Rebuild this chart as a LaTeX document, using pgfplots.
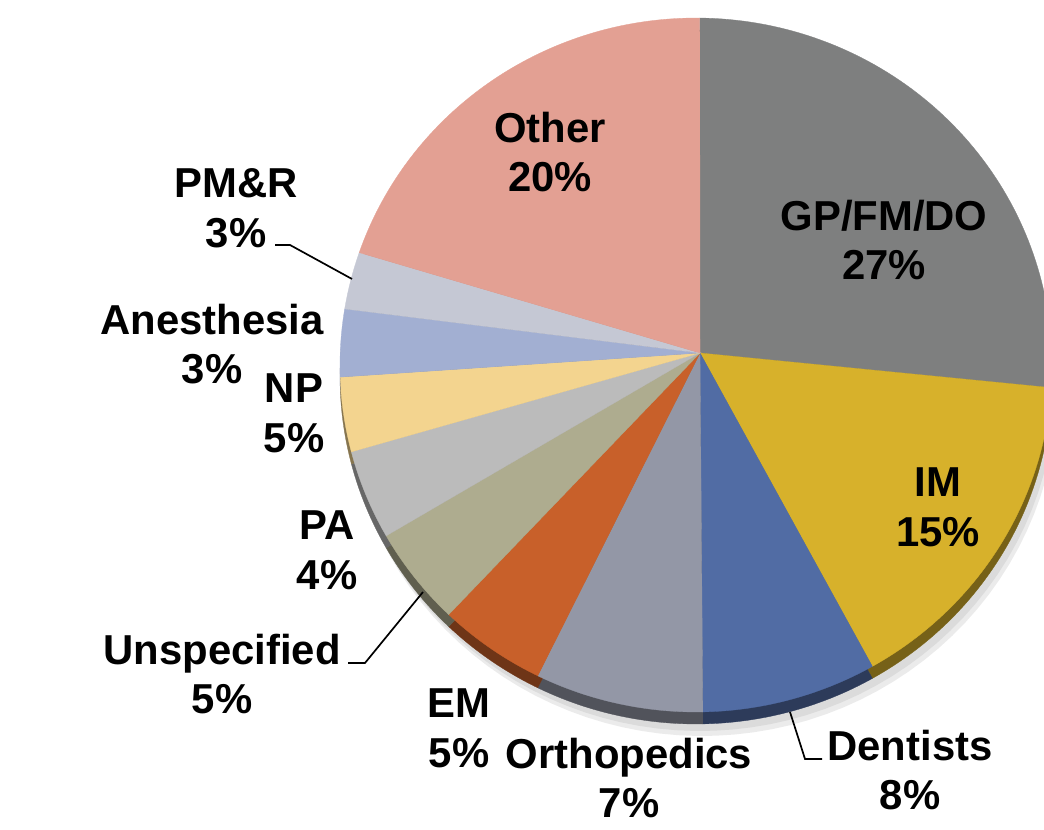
\documentclass[border=0pt]{standalone}
\usepackage{pgfplots}
\pgfplotsset{compat=1.18}
\usepackage{fontspec}
\setmainfont{Liberation Sans}
\definecolor{cGP}{HTML}{7E7F7F}
\definecolor{cIM}{HTML}{D7B12B}
\definecolor{cDent}{HTML}{516CA4}
\definecolor{cOrtho}{HTML}{9397A6}
\definecolor{cEM}{HTML}{C8602A}
\definecolor{cUns}{HTML}{AEAC8F}
\definecolor{cPA}{HTML}{BBBBBB}
\definecolor{cNP}{HTML}{F3D48F}
\definecolor{cAnes}{HTML}{A2AFD2}
\definecolor{cPMR}{HTML}{C5C8D4}
\definecolor{cOther}{HTML}{E3A093}
% top face of a slice: ellipse centre (696,465), radii 356 x 347, apex (700,477)
\newcommand{\topslice}[3]{%
  \addplot[draw=#1, line width=0.3pt, fill=#1, domain=#2:#3, samples=80]
    ({696+356*cos(x)},{465+347*sin(x)}) -- (700,477) -- cycle;}
% side (thickness) of a slice: same shape, 12 px lower, darker
\newcommand{\sideslice}[3]{%
  \addplot[draw=#1!55!black, line width=0.3pt, fill=#1!55!black, domain=#2:#3, samples=80]
    ({696+356*cos(x)},{453+347*sin(x)}) -- (700,465) -- cycle;}
\begin{document}
\begin{tikzpicture}
\begin{axis}[hide axis, scale only axis, width=1044bp, height=830bp,
  xmin=0, xmax=1044, ymin=0, ymax=830, clip=true]
\addplot[draw=none] coordinates {(0,0) (1044,830)};
% soft shadow
\addplot[draw=none, fill=black!8, domain=0:360, samples=120] ({702+356*cos(x)},{441+347*sin(x)});
\addplot[draw=none, fill=black!14, domain=0:360, samples=120] ({700+356*cos(x)},{446+347*sin(x)});
% sides
\sideslice{cGP}{-3.75}{89.4}
\sideslice{cIM}{-60.3}{-3.75}
\sideslice{cDent}{-88.9}{-60.3}
\sideslice{cOrtho}{-116.4}{-88.9}
\sideslice{cEM}{-134.0}{-116.4}
\sideslice{cUns}{-150.5}{-134.0}
\sideslice{cPA}{-165.5}{-150.5}
\sideslice{cNP}{-178.0}{-165.5}
\sideslice{cAnes}{-189.3}{-178.0}
\sideslice{cPMR}{-198.9}{-189.3}
\sideslice{cOther}{-270.6}{-198.9}
% top faces
\topslice{cGP}{-3.75}{89.4}
\topslice{cIM}{-60.3}{-3.75}
\topslice{cDent}{-88.9}{-60.3}
\topslice{cOrtho}{-116.4}{-88.9}
\topslice{cEM}{-134.0}{-116.4}
\topslice{cUns}{-150.5}{-134.0}
\topslice{cPA}{-165.5}{-150.5}
\topslice{cNP}{-178.0}{-165.5}
\topslice{cAnes}{-189.3}{-178.0}
\topslice{cPMR}{-198.9}{-189.3}
\topslice{cOther}{-270.6}{-198.9}
% leader lines
\addplot[black, line width=1.7pt] coordinates {(275,585) (290,585) (352,551)};
\addplot[black, line width=1.7pt] coordinates {(348,167) (365,167) (423,238)};
\addplot[black, line width=1.7pt] coordinates {(790,118) (805,71) (822,71)};
% labels
\tikzset{lab/.style={font=\bfseries\fontsize{42}{50}\selectfont, align=center, inner sep=0pt}}
\node[lab] at (axis cs:550,678) {Other\\20\%};
\node[lab] at (axis cs:884,590) {GP/FM/DO\\27\%};
\node[lab] at (axis cs:938,323) {IM\\15\%};
\node[lab] at (axis cs:910,60) {Dentists\\8\%};
\node[lab] at (axis cs:629,52) {Orthopedics\\7\%};
\node[lab] at (axis cs:459,102) {EM\\5\%};
\node[lab] at (axis cs:222,156) {Unspecified\\5\%};
\node[lab] at (axis cs:327,280) {PA\\4\%};
\node[lab] at (axis cs:294,417) {NP\\5\%};
\node[lab] at (axis cs:212,486) {Anesthesia\\3\%};
\node[lab] at (axis cs:236,622) {PM\&R\\3\%};
\end{axis}
\end{tikzpicture}
\end{document}
